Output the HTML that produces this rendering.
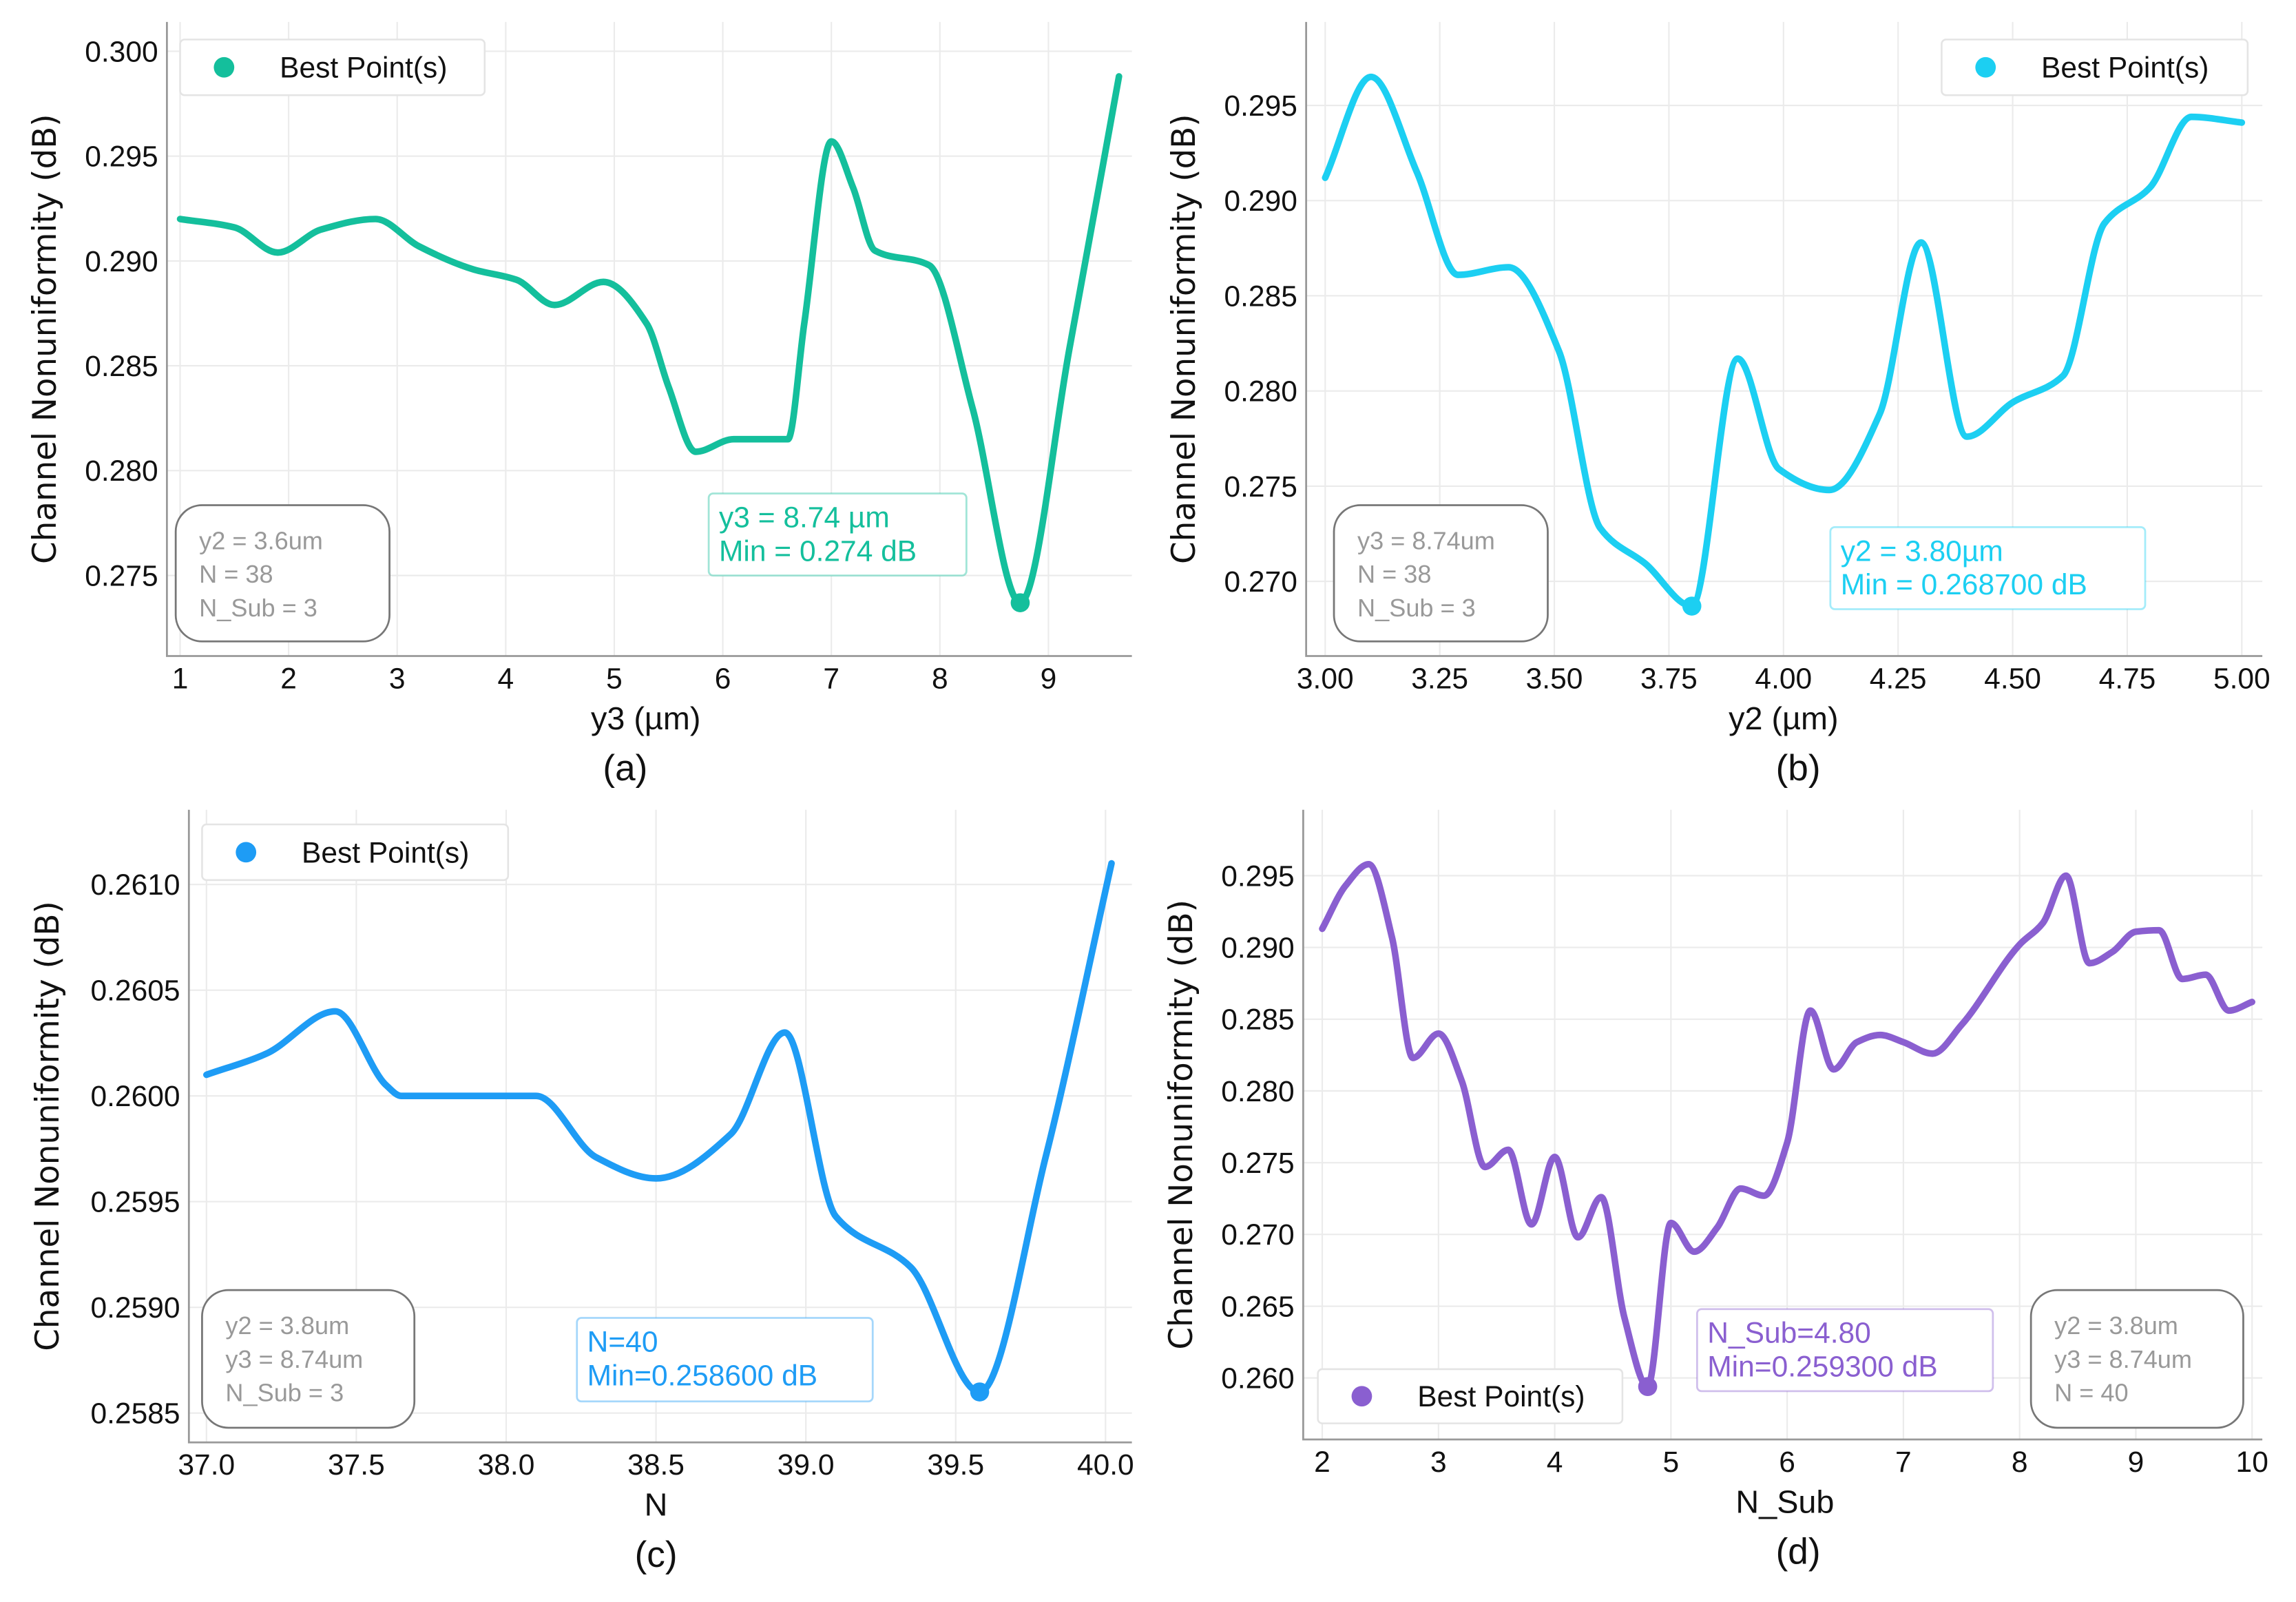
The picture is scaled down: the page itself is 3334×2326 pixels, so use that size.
<!DOCTYPE html>
<html><head><meta charset="utf-8"><style>
html,body{margin:0;padding:0;background:#fff}
svg{display:block}
</style></head><body>
<svg id="fig" width="3334" height="2326" viewBox="0 0 1568 1094" preserveAspectRatio="none" xmlns="http://www.w3.org/2000/svg" font-family="Liberation Sans, sans-serif"></svg>
<script>
// Panel (a)
const aX = [1,1.5,1.9,2.3,2.8,3.2,3.7,4.1,4.45,4.9,5.3,5.5,5.75,6.1,6.6,6.75,7.0,7.2,7.4,7.9,8.3,8.74,9.2,9.65];
const aY = [0.292,0.2916,0.2904,0.2915,0.292,0.2907,0.2896,0.2891,0.2879,0.289,0.287,0.284,0.2809,0.2815,0.2815,0.287,0.2957,0.2935,0.2905,0.2898,0.283,0.2737,0.286,0.2988];
const aXTicks = [1,2,3,4,5,6,7,8,9];
const aXTickLabels = ["1","2","3","4","5","6","7","8","9"];
const aYTicks = [0.275,0.280,0.285,0.290,0.295,0.300];
const aYTickLabels = ["0.275","0.280","0.285","0.290","0.295","0.300"];
const aBest = [8.74,0.2737];
// Panel (b)
const bX = [3.0,3.1,3.2,3.29,3.4,3.51,3.6,3.7,3.8,3.9,3.99,4.1,4.21,4.3,4.4,4.5,4.61,4.7,4.8,4.89,5.0];
const bY = [0.2912,0.2965,0.2915,0.2861,0.2865,0.2821,0.2728,0.2709,0.2687,0.2817,0.2759,0.2748,0.2788,0.2878,0.2776,0.2794,0.2808,0.2888,0.2907,0.2944,0.2941];
const bXTicks = [3.0,3.25,3.5,3.75,4.0,4.25,4.5,4.75,5.0];
const bXTickLabels = ["3.00","3.25","3.50","3.75","4.00","4.25","4.50","4.75","5.00"];
const bYTicks = [0.270,0.275,0.280,0.285,0.290,0.295];
const bYTickLabels = ["0.270","0.275","0.280","0.285","0.290","0.295"];
const bBest = [3.8,0.2687];
// Panel (c)
const cX = [37.0,37.2,37.43,37.6,37.65,38.1,38.3,38.5,38.75,38.93,39.1,39.35,39.58,39.8,40.02];
const cY = [0.2601,0.2602,0.2604,0.26005,0.2600,0.2600,0.25971,0.25961,0.25982,0.2603,0.25943,0.25919,0.2586,0.25971,0.2611];
const cXTicks = [37.0,37.5,38.0,38.5,39.0,39.5,40.0];
const cXTickLabels = ["37.0","37.5","38.0","38.5","39.0","39.5","40.0"];
const cYTicks = [0.2585,0.2590,0.2595,0.2600,0.2605,0.2610];
const cYTickLabels = ["0.2585","0.2590","0.2595","0.2600","0.2605","0.2610"];
const cBest = [39.58,0.2586];
// Panel (d)
const dX = [2,2.2,2.4,2.6,2.78,3.0,3.2,3.4,3.6,3.8,4.0,4.2,4.4,4.6,4.8,5.0,5.2,5.4,5.6,5.8,6.0,6.2,6.4,6.6,6.8,7.0,7.25,7.5,8.0,8.2,8.4,8.6,8.8,9.0,9.2,9.4,9.6,9.8,10];
const dY = [0.2913,0.2943,0.2958,0.2907,0.2823,0.2840,0.2807,0.2747,0.2759,0.2707,0.2754,0.2698,0.2726,0.2642,0.2594,0.2708,0.2688,0.2705,0.2732,0.2727,0.2764,0.2856,0.2815,0.2834,0.2839,0.2834,0.2826,0.2846,0.2902,0.2917,0.2950,0.2889,0.2897,0.2911,0.2912,0.2878,0.2881,0.2856,0.2862];
const dXTicks = [2,3,4,5,6,7,8,9,10];
const dXTickLabels = ["2","3","4","5","6","7","8","9","10"];
const dYTicks = [0.260,0.265,0.270,0.275,0.280,0.285,0.290,0.295];
const dYTickLabels = ["0.260","0.265","0.270","0.275","0.280","0.285","0.290","0.295"];
const dBest = [4.8,0.2594];

const NS="http://www.w3.org/2000/svg";
const svg=document.getElementById('fig');
function mk(tag,attrs,parent){const e=document.createElementNS(NS,tag);for(const k in attrs)e.setAttribute(k,attrs[k]);(parent||svg).appendChild(e);return e;}
function txt(s,attrs,parent){const e=mk('text',attrs,parent);e.textContent=s;return e;}
// monotone cubic (Fritsch-Carlson) path, no overshoot
function smooth(pts){
  const n=pts.length,dx=[],m=[],t=[];
  for(let i=0;i<n-1;i++){dx[i]=pts[i+1][0]-pts[i][0];m[i]=(pts[i+1][1]-pts[i][1])/dx[i];}
  t[0]=m[0];t[n-1]=m[n-2];
  for(let i=1;i<n-1;i++){ if(m[i-1]*m[i]<=0) t[i]=0; else { const w1=2*dx[i]+dx[i-1],w2=dx[i]+2*dx[i-1]; t[i]=(w1+w2)/(w1/m[i-1]+w2/m[i]); } }
  let d='M'+pts[0][0]+','+pts[0][1];
  for(let i=0;i<n-1;i++){const h=dx[i]/3;
    d+=' C'+(pts[i][0]+h)+','+(pts[i][1]+t[i]*h)+' '+(pts[i+1][0]-h)+','+(pts[i+1][1]-t[i+1]*h)+' '+pts[i+1][0]+','+pts[i+1][1];}
  return d;}

function panel(cfg){
  const g=mk('g',{});
  
  
  const sx=v=>cfg.px0+(v-cfg.vx0)*(cfg.px1-cfg.px0)/(cfg.vx1-cfg.vx0);
  const sy=v=>cfg.py0+(v-cfg.vy0)*(cfg.py1-cfg.py0)/(cfg.vy1-cfg.vy0);
  cfg.xt.forEach((v,i)=>{const l=mk('line',{x1:sx(v),x2:sx(v),y1:cfg.top,y2:cfg.bot,stroke:'#ebebeb','stroke-width':1},g);
    
    const t=txt(cfg.xl[i],{x:sx(v),y:cfg.bot+22,'font-size':20,'text-anchor':'middle',fill:'#111'},g);
    });
  cfg.yt.forEach((v,i)=>{const l=mk('line',{x1:cfg.left,x2:cfg.right,y1:sy(v),y2:sy(v),stroke:'#ebebeb','stroke-width':1},g);
    
    const t=txt(cfg.yl[i],{x:cfg.left-6,y:sy(v)+7,'font-size':20,'text-anchor':'end',fill:'#111'},g);
    });
  const ax=mk('path',{d:`M${cfg.left},${cfg.top} V${cfg.bot} H${cfg.right}`,fill:'none',stroke:'#999','stroke-width':1.3},g);
  
  const pts=cfg.xs.map((x,i)=>[sx(x),sy(cfg.ys[i])]);
  const line=mk('path',{d:smooth(pts),fill:'none',stroke:cfg.color,'stroke-width':4.5,'stroke-linejoin':'round','stroke-linecap':'round'},g);
  
  const bp=mk('circle',{cx:sx(cfg.best[0]),cy:sy(cfg.best[1]),r:6.5,fill:cfg.color},g);
  
  const yl=txt('Channel Nonuniformity (dB)',{transform:`translate(${cfg.ylx},${(cfg.top+cfg.bot)/2}) rotate(-90)`,'font-size':22,'text-anchor':'middle',fill:'#111',style:'font-family:"DejaVu Sans",sans-serif'},g);
  
  const xl=txt(cfg.xtitle,{x:cfg.xtx,y:cfg.bot+50,'font-size':22,'text-anchor':'middle',fill:'#111'},g);
  
  const cap=txt(cfg.cap,{x:cfg.capx,y:cfg.bot+85,'font-size':25,'text-anchor':'middle',fill:'#111'},g);
  
  const L=cfg.leg;
  const lg=mk('g',{},g);
  
  mk('rect',{x:L[0],y:L[1],width:L[2]-L[0],height:L[3]-L[1],rx:3,fill:'#fff',stroke:'#e4e4e4','stroke-width':1.2},lg);
  mk('circle',{cx:L[0]+30,cy:(L[1]+L[3])/2,r:7,fill:cfg.color},lg);
  const lt=txt('Best Point(s)',{x:L[0]+68,y:(L[1]+L[3])/2+7,'font-size':20,fill:'#111'},lg);
  
  const P=cfg.par;
  const pg=mk('g',{},g);
  
  mk('rect',{x:P[0],y:P[1],width:P[2]-P[0],height:P[3]-P[1],rx:18,fill:'#fff',stroke:'#777','stroke-width':1.3},pg);
  cfg.parText.forEach((s,i)=>{txt(s,{x:P[0]+16,y:P[1]+30+i*23,'font-size':17,fill:'#999'},pg);});
  const A=cfg.ann;
  const ag=mk('g',{},g);
  
  mk('rect',{x:A[0],y:A[1],width:A[2]-A[0],height:A[3]-A[1],rx:3,fill:'#fff',stroke:cfg.color,'stroke-opacity':0.4,'stroke-width':1.3},ag);
  cfg.annText.forEach((s,i)=>{txt(s,{x:A[0]+7,y:A[1]+23+i*23,'font-size':20,fill:cfg.color},ag);});
}

panel({id:'a',color:'#14bf9c',xs:aX,ys:aY,xt:aXTicks,xl:aXTickLabels,yt:aYTicks,yl:aYTickLabels,best:aBest,
 left:114,right:773,top:15,bot:448,px0:123,px1:716,vx0:1,vx1:9,py0:393,py1:35,vy0:0.275,vy1:0.300,ylx:38,xtx:441,capx:427,
 xtitle:'y3 (µm)',cap:'(a)',leg:[123,27,331,65],par:[120,345,266,438],parText:['y2 = 3.6um','N = 38','N_Sub = 3'],
 ann:[484,337,660,393],annText:['y3 = 8.74 µm','Min = 0.274 dB']});
panel({id:'b',color:'#1ccff2',xs:bX,ys:bY,xt:bXTicks,xl:bXTickLabels,yt:bYTicks,yl:bYTickLabels,best:bBest,
 left:892,right:1545,top:15,bot:448,px0:905,px1:1531,vx0:3,vx1:5,py0:397,py1:72,vy0:0.270,vy1:0.295,ylx:816,xtx:1218,capx:1228,
 xtitle:'y2 (µm)',cap:'(b)',leg:[1326,27,1535,65],par:[911,345,1057,438],parText:['y3 = 8.74um','N = 38','N_Sub = 3'],
 ann:[1250,360,1465,416],annText:['y2 = 3.80µm','Min = 0.268700 dB']});
panel({id:'c',color:'#1e9cf5',xs:cX,ys:cY,xt:cXTicks,xl:cXTickLabels,yt:cYTicks,yl:cYTickLabels,best:cBest,
 left:129,right:773,top:553,bot:985,px0:141,px1:755,vx0:37,vx1:40,py0:965,py1:604,vy0:0.2585,vy1:0.2610,ylx:40,xtx:448,capx:448,
 xtitle:'N',cap:'(c)',leg:[138,563,347,601],par:[138,881,283,975],parText:['y2 = 3.8um','y3 = 8.74um','N_Sub = 3'],
 ann:[394,900,596,957],annText:['N=40','Min=0.258600 dB']});
panel({id:'d',color:'#8a5fd0',xs:dX,ys:dY,xt:dXTicks,xl:dXTickLabels,yt:dYTicks,yl:dYTickLabels,best:dBest,
 left:890,right:1545,top:553,bot:983,px0:903,px1:1538,vx0:2,vx1:10,py0:941,py1:598,vy0:0.260,vy1:0.295,ylx:814,xtx:1219,capx:1228,
 xtitle:'N_Sub',cap:'(d)',leg:[900,935,1108,972],par:[1387,881,1532,975],parText:['y2 = 3.8um','y3 = 8.74um','N = 40'],
 ann:[1159,894,1361,950],annText:['N_Sub=4.80','Min=0.259300 dB']});
</script>
</body></html>
